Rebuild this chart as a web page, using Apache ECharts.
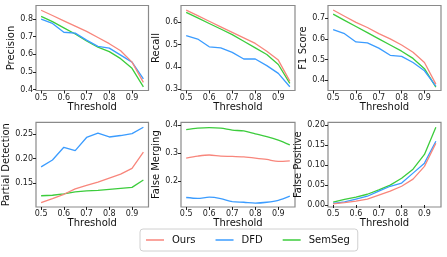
<!DOCTYPE html>
<html><head><meta charset="utf-8">
<script src="https://cdn.jsdelivr.net/npm/echarts@6/dist/echarts.min.js"></script>
<style>html,body{margin:0;padding:0;background:#fff}#c{width:447px;height:257px}</style>
</head><body><div id="c"></div>
<script>
const thresholds = [0.5, 0.55, 0.6, 0.65, 0.7, 0.75, 0.8, 0.85, 0.9, 0.95];
const methods = ['Ours', 'DFD', 'SemSeg'];
const xTicks = [0.5, 0.6, 0.7, 0.8, 0.9];

const precisionOurs = [0.85, 0.82, 0.79, 0.76, 0.73, 0.695, 0.66, 0.62, 0.555, 0.44];
const precisionDFD = [0.80, 0.775, 0.725, 0.72, 0.68, 0.645, 0.635, 0.595, 0.555, 0.46];
const precisionSemSeg = [0.815, 0.785, 0.75, 0.715, 0.675, 0.64, 0.615, 0.575, 0.52, 0.415];

const recallOurs = [0.655, 0.63, 0.605, 0.58, 0.555, 0.53, 0.505, 0.47, 0.43, 0.335];
const recallDFD = [0.54, 0.525, 0.49, 0.485, 0.465, 0.435, 0.435, 0.405, 0.37, 0.31];
const recallSemSeg = [0.645, 0.62, 0.595, 0.57, 0.545, 0.515, 0.485, 0.455, 0.41, 0.325];

const f1Ours = [0.74, 0.71, 0.68, 0.655, 0.625, 0.60, 0.57, 0.535, 0.485, 0.38];
const f1DFD = [0.645, 0.625, 0.585, 0.58, 0.555, 0.52, 0.515, 0.485, 0.445, 0.37];
const f1SemSeg = [0.72, 0.69, 0.66, 0.63, 0.60, 0.57, 0.54, 0.505, 0.455, 0.365];

const partialOurs = [0.11, 0.118, 0.127, 0.138, 0.145, 0.152, 0.16, 0.168, 0.18, 0.213];
const partialDFD = [0.183, 0.197, 0.223, 0.216, 0.243, 0.252, 0.244, 0.247, 0.251, 0.264];
const partialSemSeg = [0.124, 0.125, 0.128, 0.132, 0.134, 0.135, 0.137, 0.139, 0.141, 0.156];

const mergingOurs = [0.283, 0.29, 0.294, 0.29, 0.289, 0.287, 0.283, 0.278, 0.271, 0.273];
const mergingDFD = [0.142, 0.139, 0.143, 0.138, 0.127, 0.125, 0.122, 0.125, 0.132, 0.147];
const mergingSemSeg = [0.385, 0.39, 0.392, 0.39, 0.383, 0.38, 0.37, 0.36, 0.347, 0.33];

const fpOurs = [0.003, 0.006, 0.01, 0.015, 0.025, 0.035, 0.047, 0.065, 0.097, 0.155];
const fpDFD = [0.004, 0.008, 0.015, 0.022, 0.035, 0.047, 0.055, 0.08, 0.105, 0.16];
const fpSemSeg = [0.007, 0.014, 0.02, 0.027, 0.038, 0.05, 0.067, 0.09, 0.127, 0.195];

const panels = [
  {name: 'Precision', vals: [precisionOurs, precisionDFD, precisionSemSeg], ticks: [0.4,0.5,0.6,0.7,0.8], dec: 1, min: 0.394, max: 0.877},
  {name: 'Recall', vals: [recallOurs, recallDFD, recallSemSeg], ticks: [0.3,0.4,0.5,0.6], dec: 1, min: 0.293, max: 0.676},
  {name: 'F1 Score', vals: [f1Ours, f1DFD, f1SemSeg], ticks: [0.4,0.5,0.6,0.7], dec: 1, min: 0.349, max: 0.762},
  {name: 'Partial Detection', vals: [partialOurs, partialDFD, partialSemSeg], ticks: [0.15,0.20,0.25], dec: 2, min: 0.101, max: 0.274},
  {name: 'False Merging', vals: [mergingOurs, mergingDFD, mergingSemSeg], ticks: [0.2,0.3,0.4], dec: 1, min: 0.108, max: 0.411},
  {name: 'False Positive', vals: [fpOurs, fpDFD, fpSemSeg], ticks: [0.00,0.05,0.10,0.15,0.20], dec: 2, min: -0.005, max: 0.2075}
];
const colors = ['#f8867c', '#3b9cff', '#3ccc3c'];

const lefts = [36, 181, 328];
const widths = [112.5, 114, 113];
const tops = [5.5, 122.3];
const heights = [85, 84.7];

const grids = [], xAxes = [], yAxes = [], series = [];
const tickColor = '#222';
panels.forEach((p, i) => {
  const col = i % 3, row = Math.floor(i / 3);
  grids.push({left: lefts[col], top: tops[row], width: widths[col], height: heights[row],
    show: true, borderColor: '#8a8a8a', borderWidth: 1.2, backgroundColor: 'transparent'});
  xAxes.push({type: 'value', gridIndex: i, min: 0.4775, max: 0.9725,
    name: 'Threshold', nameLocation: 'middle', nameGap: 11,
    nameTextStyle: {fontFamily: 'DejaVu Sans', fontSize: 10, color: '#111', verticalAlign: 'top'},
    axisLine: {show: false}, splitLine: {show: false},
    axisTick: {show: true, length: 3, lineStyle: {color: tickColor}, customValues: xTicks},
    axisLabel: {customValues: xTicks, fontFamily: 'DejaVu Sans', fontSize: 8, color: tickColor, margin: 3,
      formatter: v => v.toFixed(1)}});
  yAxes.push({type: 'value', gridIndex: i, min: p.min, max: p.max,
    name: p.name, nameLocation: 'middle', nameGap: p.dec === 2 ? 25 : 19,
    nameTextStyle: {fontFamily: 'DejaVu Sans', fontSize: 10, color: '#111'},
    axisLine: {show: false}, splitLine: {show: false},
    axisTick: {show: true, length: 3, lineStyle: {color: tickColor}, customValues: p.ticks},
    axisLabel: {customValues: p.ticks, fontFamily: 'DejaVu Sans', fontSize: 8, color: tickColor, margin: 3,
      formatter: v => v.toFixed(p.dec)}});
  p.vals.forEach((arr, k) => {
    series.push({type: 'line', name: methods[k], xAxisIndex: i, yAxisIndex: i,
      data: thresholds.map((t, j) => [t, arr[j]]), symbol: 'none', smooth: i === 4 ? 0.3 : false,
      lineStyle: {width: 1.3, color: colors[k]}, itemStyle: {color: colors[k]}, z: 3 - k,
      animation: false});
  });
});

const chart = echarts.init(document.getElementById('c'), null, {renderer: 'canvas'});
chart.setOption({
  animation: false,
  grid: grids, xAxis: xAxes, yAxis: yAxes, series: series,
  legend: {data: methods, left: 140, top: 229, orient: 'horizontal',
    icon: 'rect', itemWidth: 18, itemHeight: 1.5, itemGap: 20,
    borderColor: '#d0d0d0', borderWidth: 1, borderRadius: 3, padding: [6, 8, 6, 6],
    textStyle: {fontFamily: 'DejaVu Sans', fontSize: 10, color: '#111', padding: [0, 0, 0, 3]}}
});
</script></body></html>
